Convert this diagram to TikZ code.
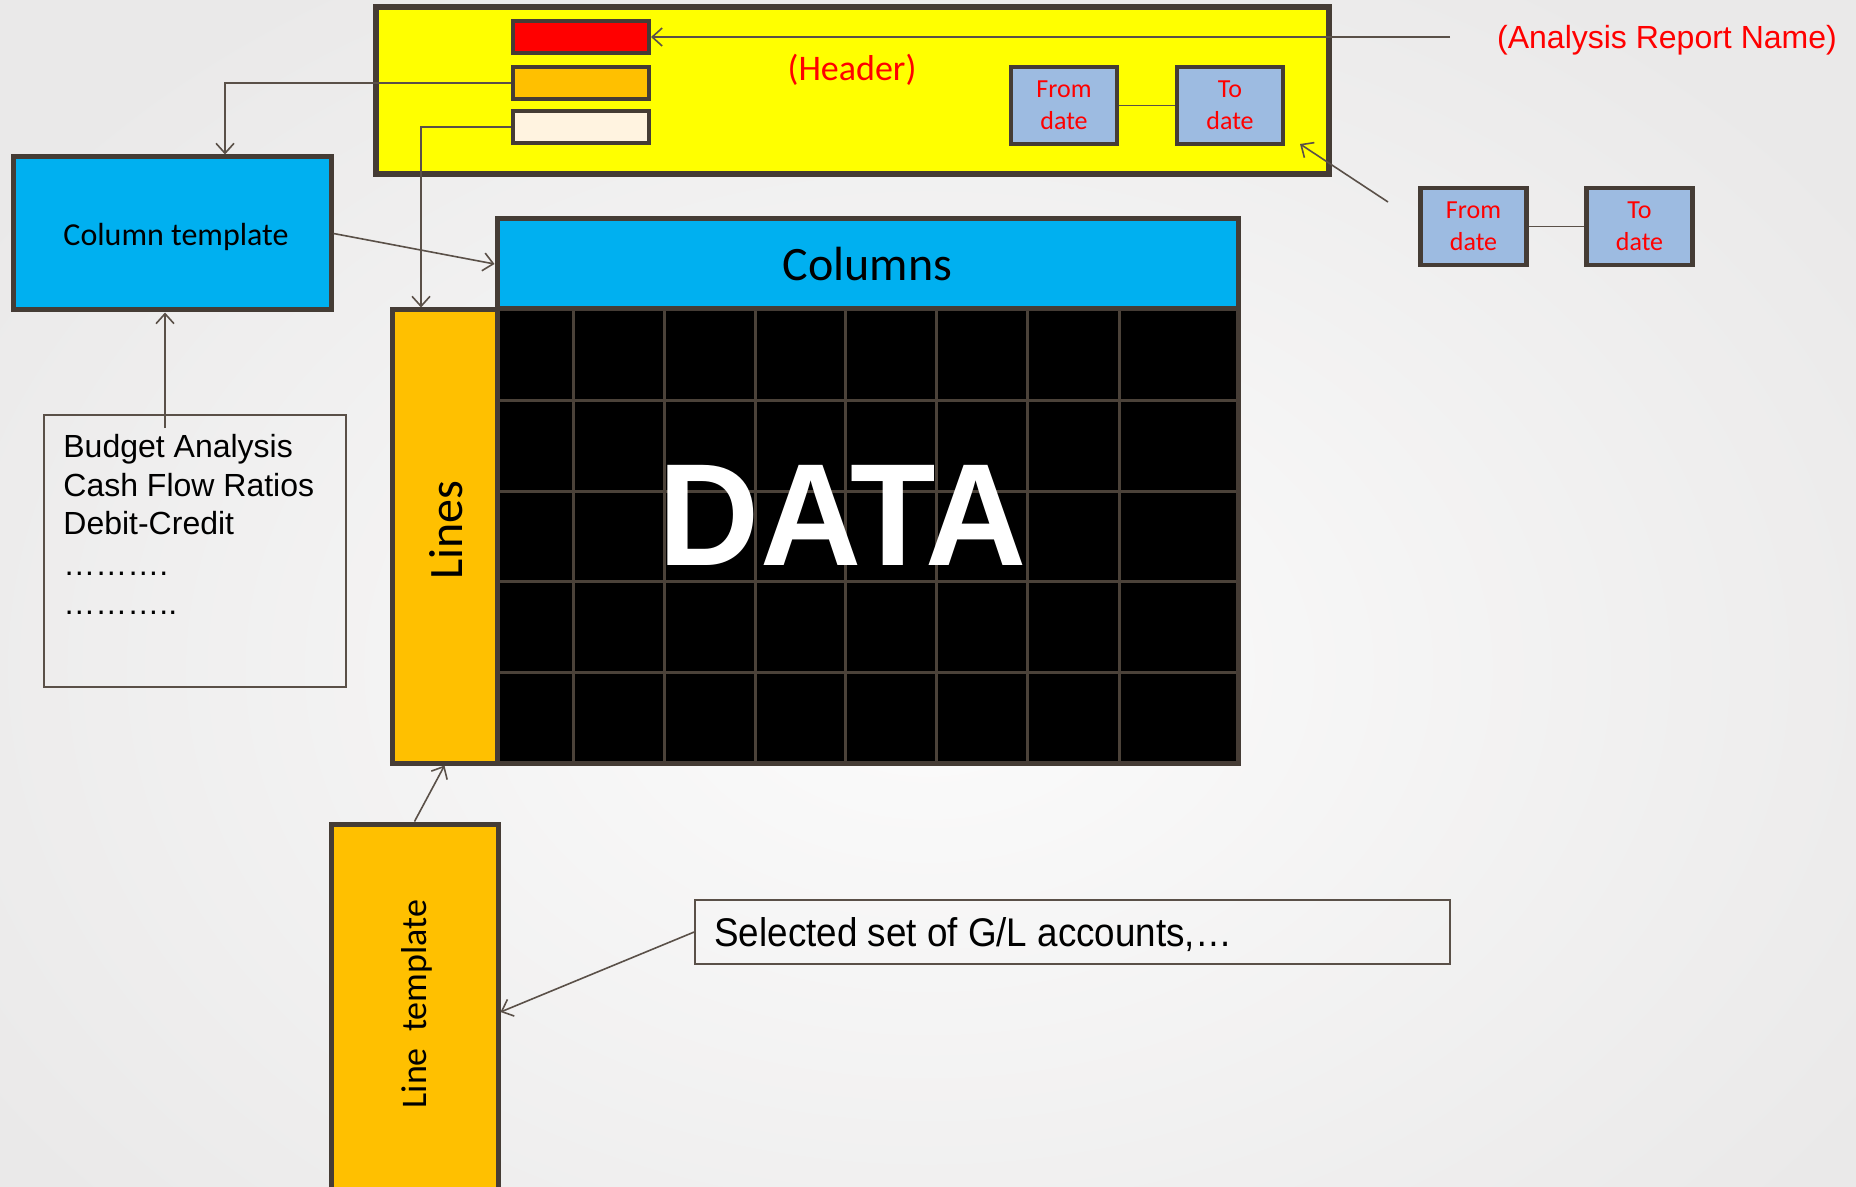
\documentclass[tikz,border=0pt]{standalone}
\usepackage{fontspec}
\setmainfont{Liberation Sans}
\newfontfamily\calib{Carlito}
\usetikzlibrary{arrows.meta}
\definecolor{bordc}{HTML}{453C35}
\definecolor{linec}{HTML}{5A5048}
\definecolor{hyellow}{HTML}{FFFF00}
\definecolor{hred}{HTML}{FF0000}
\definecolor{horange}{HTML}{FFC000}
\definecolor{hcream}{HTML}{FFF3E0}
\definecolor{hblue}{HTML}{00B0F0}
\definecolor{dateblue}{HTML}{9DBBE1}
\definecolor{gridc}{HTML}{4B4239}
\definecolor{bgout}{HTML}{EAE9E9}
\definecolor{bgin}{HTML}{FCFCFC}
\begin{document}
\begin{tikzpicture}[x=0.5pt,y=-0.5pt,
  box/.style={draw=bordc, line width=2.5pt, inner sep=0pt, rectangle},
  smallbox/.style={box, line width=2pt, minimum width=68pt, minimum height=16pt},
  datebox/.style={box, line width=2.2pt, fill=dateblue, minimum width=53pt, minimum height=38.5pt,
     text=hred, font=\calib\fontsize{13}{16}\selectfont, align=center, text depth=-1.5pt},
  thinbox/.style={draw=linec, line width=0.8pt, inner sep=0pt, rectangle},
  arr/.style={draw=linec, line width=0.8pt, -{Straight Barb[length=5pt,width=9pt]}},
  conn/.style={draw=linec, line width=0.8pt}]
\useasboundingbox (0,0) rectangle (1856,1187);
\clip (0,0) rectangle (1856,1187);
\shade[inner color=bgin, outer color=bgout] (-200,-150) rectangle (2056,1487);

% header
\node[box, line width=3pt, fill=hyellow, minimum width=476.5pt, minimum height=83.5pt] (header) at (852.5,90.5) {};
\node[smallbox, fill=hred] (red) at (581,37) {};
\node[smallbox, fill=horange] (orange) at (581,83) {};
\node[smallbox, fill=hcream] (cream) at (581,127) {};
\node[text=hred, font=\calib\fontsize{18}{22}\selectfont] (hdrtxt) at (852,70) {(Header)};
\node[datebox] (hfrom) at (1064,105.5) {From\\date};
\node[datebox] (hto) at (1230,105.5) {To\\date};
\draw[conn] (hfrom.east) -- (hto.west);

% report name
\node[text=hred, font=\fontsize{16}{19}\selectfont] (rname) at (1667,40.5) {(Analysis Report Name)};
\coordinate (rn) at (1450,37);
\draw[arr] (rn) -- (red.east);

% right dates
\node[datebox] (rfrom) at (1473.5,226.5) {From\\date};
\node[datebox] (rto) at (1639.5,226.5) {To\\date};
\draw[conn] (rfrom.east) -- (rto.west);
\coordinate (da) at (1388,202);
\coordinate (db) at (1300,144);
\draw[arr] (da) -- (db);

% column template
\node[box, fill=hblue, minimum width=159pt, minimum height=76.5pt] (coltpl) at (172,233.5) {};
\node[font=\calib\fontsize{16}{20}\selectfont] (coltxt) at (176,237) {Column template};

% columns
\node[box, fill=hblue, minimum width=370.5pt, minimum height=45pt,
  font=\calib\fontsize{24}{30}\selectfont] (columns) at (867.5,264) {Columns};

% data grid
\node[box, fill=black, minimum width=370.5pt, minimum height=227pt] (data) at (867.5,536) {};
\foreach \gx in {573,664,755,845,936,1027,1119}
  \draw[gridc, line width=1.5pt] (\gx,309) -- (\gx,763);
\foreach \gy in {400,491,581,672}
  \draw[gridc, line width=1.5pt] (497,\gy) -- (1238,\gy);
\draw[bordc, line width=2.5pt] (497,309) rectangle (1238,763);
\node[text=white, font=\bfseries\fontsize{70}{72}\selectfont, yscale=1.04] (datatxt) at (843,515) {DATA};

% lines
\node[box, fill=horange, minimum width=52.5pt, minimum height=226.5pt] (lines) at (444.5,536.5) {};
\node[rotate=90, font=\calib\fontsize{24}{28}\selectfont] (linestxt) at (446,530) {Lines};

% budget box
\node[thinbox, minimum width=151pt, minimum height=136pt] (budget) at (195,551) {};
\node[anchor=north west, align=left, font=\fontsize{16}{19.3}\selectfont, inner sep=0pt] (btxt) at (63,434)
  {Budget Analysis\\Cash Flow Ratios\\Debit-Credit\\[1.2pt]………. \\………..};
\coordinate (bstart) at (165,428);
\draw[arr] (bstart) -- (bstart |- coltpl.south);

% header connectors
\draw[arr] (orange.west) -| ([xshift=26.5pt]coltpl.north);
\draw[arr] (cream.west) -| ([xshift=-11.75pt]lines.north);
\draw[arr] (coltpl.east) -- (columns.west);

% line template
\node[box, fill=horange, minimum width=83.5pt, minimum height=188pt] (linetpl) at (414.5,1012) {};
\node[rotate=90, font=\calib\fontsize{18}{20}\selectfont] (lttxt) at (417,1004) {Line\ \ template};
\draw[arr] (linetpl.north) -- (lines.south);

% selected
\node[thinbox, minimum width=377.5pt, minimum height=32pt] (selected) at (1072.5,932) {};
\node[anchor=west, font=\fontsize{20}{24}\selectfont, xscale=0.92, inner sep=0pt] (seltxt) at (714,935) {Selected set of G/L accounts,…};
\draw[arr] (selected.west) -- (linetpl.east);
\end{tikzpicture}
\end{document}
